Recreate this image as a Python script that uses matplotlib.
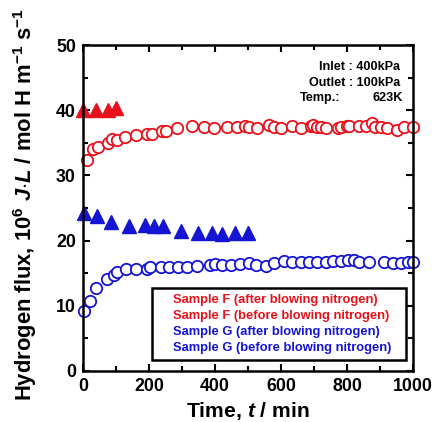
import matplotlib
matplotlib.use('Agg')
import matplotlib.pyplot as plt
from matplotlib.ticker import MultipleLocator

plt.rcParams['font.family'] = ['Liberation Sans', 'DejaVu Sans']
plt.rcParams['font.weight'] = 'bold'
plt.rcParams['mathtext.fontset'] = 'custom'
plt.rcParams['mathtext.it'] = 'Liberation Sans:italic:bold'
plt.rcParams['mathtext.rm'] = 'Liberation Sans:bold'

# Sample F, after blowing nitrogen (filled triangles)
f_after_t = [0, 40, 76, 100]
f_after_v = [40.0, 40.0, 40.1, 40.3]

# Sample F, before blowing nitrogen (open circles)
f_before_t = [11, 31, 47, 75, 87, 102, 128, 161, 194, 209, 239, 252, 285, 330,
              366, 398, 437, 467, 492, 502, 528, 563, 578, 599, 634, 660, 690,
              698, 708, 720, 735, 771, 781, 799, 806, 836, 857, 875, 885, 902,
              922, 952, 973, 998]
f_before_v = [32.4, 34.0, 34.3, 35.0, 35.6, 35.5, 35.9, 36.2, 36.4, 36.4, 36.8,
              36.8, 37.3, 37.6, 37.4, 37.3, 37.4, 37.4, 37.6, 37.5, 37.3, 37.8,
              37.4, 37.3, 37.6, 37.3, 37.6, 37.8, 37.4, 37.4, 37.3, 37.3, 37.4,
              37.6, 37.6, 37.6, 37.6, 38.0, 37.4, 37.4, 37.3, 37.0, 37.4, 37.4]

# Sample G, after blowing nitrogen (filled triangles)
g_after_t = [2, 42, 85, 140, 188, 214, 244, 298, 349, 391, 421, 462, 500]
g_after_v = [24.2, 23.8, 22.9, 22.2, 22.4, 22.2, 22.2, 21.5, 21.2, 21.2, 21.0,
             21.1, 21.1]

# Sample G, before blowing nitrogen (open circles)
g_before_t = [4, 21, 40, 72, 95, 102, 130, 160, 194, 204, 237, 261, 288, 315,
              346, 386, 401, 421, 447, 477, 502, 523, 553, 578, 609, 634, 660,
              685, 710, 736, 756, 781, 802, 822, 837, 867, 913, 938, 963, 984,
              999]
g_before_v = [9.2, 10.8, 12.8, 14.1, 14.8, 15.2, 15.6, 15.7, 15.7, 15.9, 16.0,
              16.0, 16.0, 16.0, 16.1, 16.2, 16.4, 16.3, 16.3, 16.4, 16.6, 16.2,
              16.1, 16.5, 16.9, 16.7, 16.7, 16.7, 16.7, 16.7, 16.9, 16.9, 17.0,
              17.0, 16.7, 16.7, 16.7, 16.6, 16.6, 16.7, 16.7]

labels = ['Sample F (after blowing nitrogen)',
          'Sample F (before blowing nitrogen)',
          'Sample G (after blowing nitrogen)',
          'Sample G (before blowing nitrogen)']

red = '#e8101a'
blue = '#1414d2'

fig = plt.figure(figsize=(4.34, 4.22), dpi=100)
ax = fig.add_axes([0.191, 0.121, 0.761, 0.772])

l1, = ax.plot(f_after_t, f_after_v, '^', color=red, ms=9.5, mec=red)
l2, = ax.plot(f_before_t, f_before_v, 'o', color=red, mfc='white', ms=8.2, mew=1.3)
l3, = ax.plot(g_after_t, g_after_v, '^', color=blue, ms=9.5, mec=blue)
l4, = ax.plot(g_before_t, g_before_v, 'o', color=blue, mfc='white', ms=8.2, mew=1.3)

for l in (l1, l2, l3, l4):
    l.set_clip_on(False)

ax.set_xlim(0, 1000)
ax.set_ylim(0, 50)
ax.xaxis.set_major_locator(MultipleLocator(200))
ax.xaxis.set_minor_locator(MultipleLocator(100))
ax.yaxis.set_major_locator(MultipleLocator(10))
ax.yaxis.set_minor_locator(MultipleLocator(5))
ax.tick_params(which='both', direction='in', top=True, right=True, width=1.5,
               labelsize=12.8)
ax.tick_params(which='major', length=5, pad=5)
ax.tick_params(which='minor', length=3.5)
for s in ax.spines.values():
    s.set_linewidth(1.8)

leg = ax.legend([l1, l2, l3, l4], labels, loc='upper left',
                bbox_to_anchor=(0.209, 0.255, 0.77, 0.0), mode='expand',
                handlelength=0, handletextpad=1.2, fontsize=9.3, fancybox=False,
                edgecolor='black', framealpha=1, labelspacing=0.31,
                borderaxespad=0, borderpad=0.45)
leg.get_frame().set_linewidth(1.8)
for h in leg.legend_handles:
    h.set_visible(False)
for t, c in zip(leg.get_texts(), [red, red, blue, blue]):
    t.set_color(c)

ax.text(0.96, 0.934, 'Inlet : 400kPa', transform=ax.transAxes, ha='right',
        va='center', fontsize=9.1)
ax.text(0.96, 0.885, 'Outlet : 100kPa', transform=ax.transAxes, ha='right',
        va='center', fontsize=9.1)
ax.text(0.657, 0.837, 'Temp.:', transform=ax.transAxes, ha='left',
        va='center', fontsize=9.1)
ax.text(0.968, 0.837, '623K', transform=ax.transAxes, ha='right',
        va='center', fontsize=9.1)

fig.text(248 / 434, 1 - 417 / 422, 'Time, $t$ / min', ha='center',
         va='baseline', fontsize=15.2)
fig.text(32 / 434, 1 - 401 / 422,
         'Hydrogen flux, 10$^{6}$ $J{\\cdot}L$ / mol H m$^{-1}$ s$^{-1}$',
         rotation=90, rotation_mode='anchor', ha='left', va='baseline',
         fontsize=15.8)

fig.savefig('out.png', dpi=100)
